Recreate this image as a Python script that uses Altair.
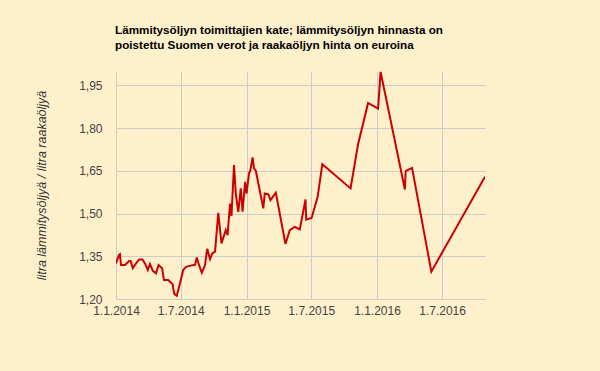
import altair as alt
import pandas as pd

dates = [
    "2014-01-01", "2014-01-09", "2014-01-12", "2014-01-15", "2014-01-26", "2014-02-07",
    "2014-02-11", "2014-02-17", "2014-02-26", "2014-03-07", "2014-03-16", "2014-03-23",
    "2014-03-31", "2014-04-06", "2014-04-14", "2014-04-23", "2014-04-30", "2014-05-10",
    "2014-05-15", "2014-05-27", "2014-06-08", "2014-06-13", "2014-06-20", "2014-06-29",
    "2014-07-08", "2014-07-16", "2014-08-01", "2014-08-10", "2014-08-15", "2014-08-19",
    "2014-08-29", "2014-09-07", "2014-09-13", "2014-09-21", "2014-09-27", "2014-10-05",
    "2014-10-14", "2014-10-23", "2014-11-04", "2014-11-09", "2014-11-16", "2014-11-20",
    "2014-11-27", "2014-12-02", "2014-12-09", "2014-12-16", "2014-12-21", "2014-12-28",
    "2015-01-01", "2015-01-08", "2015-01-12", "2015-01-18", "2015-01-22", "2015-01-27",
    "2015-02-17", "2015-02-21", "2015-03-03", "2015-03-09", "2015-03-24", "2015-04-20",
    "2015-05-02", "2015-05-16", "2015-05-30", "2015-06-15", "2015-06-17", "2015-07-02",
    "2015-07-19", "2015-08-01", "2015-10-19", "2015-11-09", "2015-12-07", "2016-01-04",
    "2016-01-11", "2016-03-19", "2016-03-21", "2016-04-08", "2016-06-01", "2016-10-29",
]
values = [
    1.325, 1.354, 1.357, 1.319, 1.319, 1.333,
    1.333, 1.308, 1.325, 1.339, 1.339, 1.325,
    1.302, 1.323, 1.299, 1.290, 1.319, 1.308,
    1.267, 1.267, 1.253, 1.218, 1.211, 1.255,
    1.302, 1.313, 1.318, 1.320, 1.346, 1.327,
    1.292, 1.319, 1.376, 1.340, 1.360, 1.366,
    1.502, 1.395, 1.442, 1.424, 1.535, 1.491,
    1.670, 1.570, 1.506, 1.588, 1.506, 1.611,
    1.570, 1.640, 1.652, 1.697, 1.658, 1.650,
    1.518, 1.570, 1.567, 1.547, 1.573, 1.393,
    1.442, 1.453, 1.444, 1.549, 1.478, 1.484,
    1.559, 1.673, 1.588, 1.743, 1.888, 1.868,
    1.997, 1.584, 1.649, 1.660, 1.296, 1.629,
]
x_ticks = ["2014-01-01", "2014-07-01", "2015-01-01", "2015-07-01", "2016-01-01", "2016-07-01"]
y_ticks = [1.20, 1.35, 1.50, 1.65, 1.80, 1.95]

title_lines = [
    "Lämmitysöljyn toimittajien kate; lämmitysöljyn hinnasta on",
    "poistettu Suomen verot ja raakaöljyn hinta on euroina",
]
y_title = "litra lämmitysöljyä / litra raakaöljyä"

df = pd.DataFrame({"date": dates, "value": values})

x_tick_vals = [alt.DateTime(year=int(d[:4]), month=int(d[5:7]), date=int(d[8:])) for d in x_ticks]

chart = (
    alt.Chart(df)
    .mark_line(color="#CC0000", strokeWidth=2, clip=True)
    .encode(
        x=alt.X(
            "date:T",
            scale=alt.Scale(
                domain=[alt.DateTime(year=2014, month=1, date=1), alt.DateTime(year=2016, month=10, date=29)],
                nice=False,
            ),
            axis=alt.Axis(
                values=x_tick_vals,
                labelExpr="timeFormat(datum.value, '%-d.%-m.%Y')",
                title=None,
                grid=True,
                ticks=False,
                domain=False,
                labelPadding=6,
                labelFlush=False,
                labelOverlap=False,
                labelFontSize=12,
            ),
        ),
        y=alt.Y(
            "value:Q",
            scale=alt.Scale(domain=[1.2, 2.0], nice=False, zero=False),
            axis=alt.Axis(
                values=y_ticks,
                labelExpr="replace(format(datum.value, '.2f'), '.', ',')",
                title=y_title,
                titleFontStyle="italic",
                titleFontWeight="normal",
                titleFontSize=12.5,
                titleColor="#333333",
                titleFont="Liberation Sans",
                titlePadding=30,
                grid=True,
                ticks=False,
                domain=True,
                domainColor="#CCCCCC",
                labelPadding=14,
                labelFontSize=12,
                labelOverlap=False,
                labelFlush=False,
            ),
        ),
    )
    .properties(
        width=369,
        height=228,
        background="#FFF0CC",
        padding={"left": 116, "top": 71, "right": 115, "bottom": 72},
        autosize=alt.AutoSizeParams(type="none"),
        title=alt.TitleParams(
            text=title_lines,
            anchor="start",
            frame="group",
            font="Liberation Sans",
            fontSize=11.7,
            fontWeight="bold",
            color="#000000",
            dx=-1,
            offset=19,
            lineHeight=15,
        ),
    )
    .configure_view(stroke=None)
    .configure_axis(
        gridColor="#CCCCCC",
        gridWidth=1,
        labelFont="Liberation Sans",
        labelColor="#444444",
    )
)

chart.save("out.html", embed_options={"renderer": "svg", "actions": False})
